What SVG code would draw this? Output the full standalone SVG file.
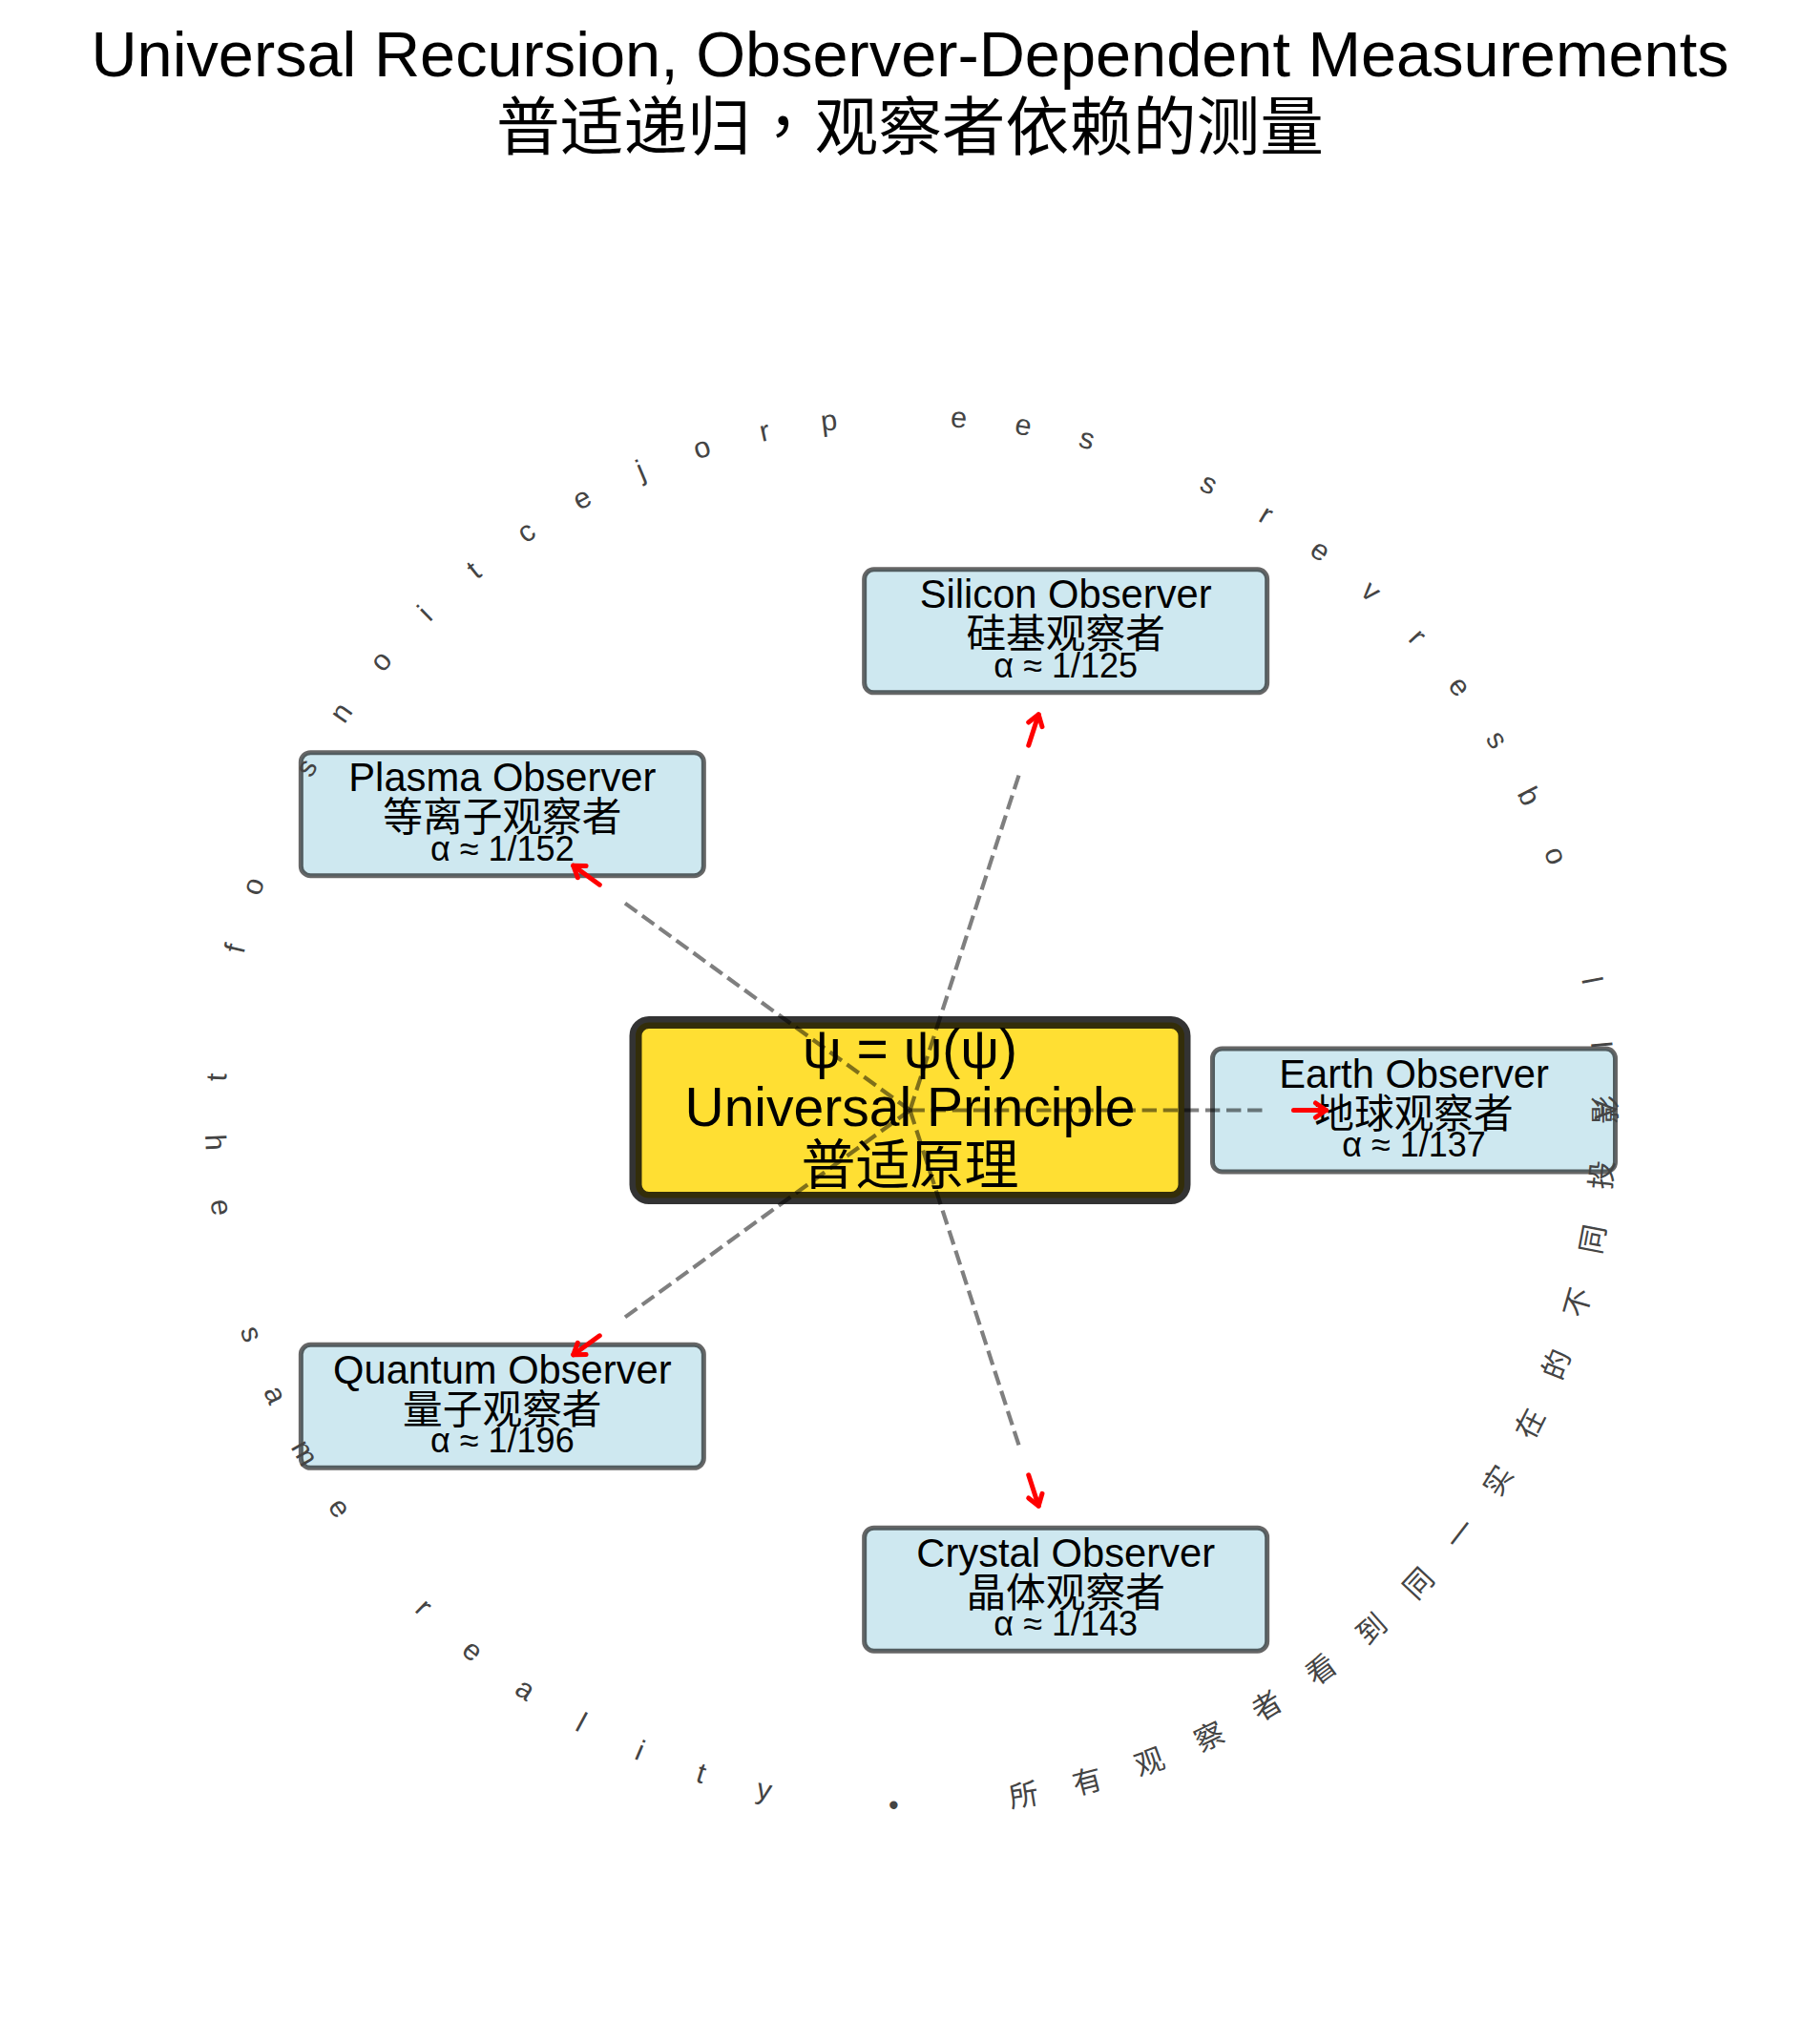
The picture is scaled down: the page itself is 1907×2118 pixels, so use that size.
<svg xmlns="http://www.w3.org/2000/svg" width="1907" height="2118" viewBox="0 0 1907 2118">
<style>
text { font-family: "Liberation Sans", "Noto Sans CJK SC", sans-serif; fill: #000; }
.title { font-size: 66.7px; text-anchor: middle; }
.tc { font-family: "Noto Sans CJK TC", "Noto Sans CJK SC", sans-serif; }
.ctr-box { fill: #FFD700; fill-opacity: 0.8; stroke: #000; stroke-opacity: 0.8; stroke-width: 13; }
.ctr-txt { font-size: 57px; text-anchor: middle; }
.obs-box { fill: #ADD8E6; fill-opacity: 0.6; stroke: #000; stroke-opacity: 0.6; stroke-width: 5; }
.obs-name { font-size: 41.7px; text-anchor: middle; }
.obs-alpha { font-size: 36px; text-anchor: middle; }
.dash { fill: none; stroke: #000; stroke-opacity: 0.5; stroke-width: 4.2; stroke-dasharray: 15.4 6.7; }
.red { fill: none; stroke: #FF0000; stroke-width: 5; stroke-linecap: round; marker-end: url(#ah); }
.ring text { font-size: 30.6px; fill: #444; text-anchor: middle; dominant-baseline: central; }
</style>
<defs>
<marker id="ah" markerUnits="userSpaceOnUse" markerWidth="40" markerHeight="40" viewBox="-20 -20 40 40" refX="0" refY="0" orient="auto" overflow="visible">
<path d="M-11,-7.5 L0,0 L-11,7.5" fill="none" stroke="#FF0000" stroke-width="5" stroke-linecap="round" stroke-linejoin="round"/>
</marker>
</defs>
<rect x="0" y="0" width="1907" height="2118" fill="#FFFFFF"/>

<g id="title">
<text class="title" x="953.5" y="80">Universal Recursion, Observer-Dependent Measurements</text>
<text class="title" x="953.5" y="157">普适递归<tspan class="tc">，</tspan>观察者依赖的测量</text>
</g>

<g id="center">
<rect class="ctr-box" x="666" y="1071.5" width="575" height="184" rx="14" ry="14"/>
<text class="ctr-txt" x="953.5" y="1119">ψ = ψ(ψ)</text>
<text class="ctr-txt" x="953.5" y="1180">Universal Principle</text>
<text class="ctr-txt" x="953.5" y="1241">普适原理</text>
</g>

<g id="earth">
<rect class="obs-box" x="1270.5" y="1099" width="422" height="129" rx="10" ry="10"/>
<text class="obs-name" x="1481.5" y="1139.5">Earth Observer</text>
<text class="obs-name" x="1481.5" y="1181.5">地球观察者</text>
<text class="obs-alpha" x="1481.5" y="1212">α ≈ 1/137</text>
</g>

<g id="silicon">
<rect class="obs-box" x="905.66" y="596.84" width="422" height="129" rx="10" ry="10"/>
<text class="obs-name" x="1116.66" y="637.3">Silicon Observer</text>
<text class="obs-name" x="1116.66" y="679.3">硅基观察者</text>
<text class="obs-alpha" x="1116.66" y="709.8">α ≈ 1/125</text>
</g>

<g id="plasma">
<rect class="obs-box" x="315.34" y="788.65" width="422" height="129" rx="10" ry="10"/>
<text class="obs-name" x="526.34" y="829.2">Plasma Observer</text>
<text class="obs-name" x="526.34" y="871.2">等离子观察者</text>
<text class="obs-alpha" x="526.34" y="901.7">α ≈ 1/152</text>
</g>

<g id="quantum">
<rect class="obs-box" x="315.34" y="1409.35" width="422" height="129" rx="10" ry="10"/>
<text class="obs-name" x="526.34" y="1449.9">Quantum Observer</text>
<text class="obs-name" x="526.34" y="1491.9">量子观察者</text>
<text class="obs-alpha" x="526.34" y="1522.4">α ≈ 1/196</text>
</g>

<g id="crystal">
<rect class="obs-box" x="905.66" y="1601.16" width="422" height="129" rx="10" ry="10"/>
<text class="obs-name" x="1116.66" y="1641.7">Crystal Observer</text>
<text class="obs-name" x="1116.66" y="1683.7">晶体观察者</text>
<text class="obs-alpha" x="1116.66" y="1714.2">α ≈ 1/143</text>
</g>

<g id="connectors">
<line class="dash" x1="953.5" y1="1163.5" x2="1323.5" y2="1163.5"/>
<line class="dash" x1="953.5" y1="1163.5" x2="1067.84" y2="811.61"/>
<line class="dash" x1="953.5" y1="1163.5" x2="654.16" y2="946.02"/>
<line class="dash" x1="953.5" y1="1163.5" x2="654.16" y2="1380.98"/>
<line class="dash" x1="953.5" y1="1163.5" x2="1067.84" y2="1515.39"/>
<line class="red" x1="1355.5" y1="1163.5" x2="1389.5" y2="1163.5"/>
<line class="red" x1="1077.72" y1="781.18" x2="1088.23" y2="748.84"/>
<line class="red" x1="628.28" y1="927.21" x2="600.77" y2="907.22"/>
<line class="red" x1="628.28" y1="1399.79" x2="600.77" y2="1419.78"/>
<line class="red" x1="1077.72" y1="1545.82" x2="1088.23" y2="1578.16"/>
</g>

<g id="ring" class="ring" transform="translate(953.5 1163)">
<text transform="rotate(0) translate(728 0) rotate(90)">A</text>
<text transform="rotate(-5.373) translate(728 0) rotate(90)">l</text>
<text transform="rotate(-10.746) translate(728 0) rotate(90)">l</text>
<text transform="rotate(-21.493) translate(728 0) rotate(90)">o</text>
<text transform="rotate(-26.866) translate(728 0) rotate(90)">b</text>
<text transform="rotate(-32.239) translate(728 0) rotate(90)">s</text>
<text transform="rotate(-37.612) translate(728 0) rotate(90)">e</text>
<text transform="rotate(-42.985) translate(728 0) rotate(90)">r</text>
<text transform="rotate(-48.358) translate(728 0) rotate(90)">v</text>
<text transform="rotate(-53.731) translate(728 0) rotate(90)">e</text>
<text transform="rotate(-59.104) translate(728 0) rotate(90)">r</text>
<text transform="rotate(-64.478) translate(728 0) rotate(90)">s</text>
<text transform="rotate(-75.224) translate(728 0) rotate(90)">s</text>
<text transform="rotate(-80.597) translate(728 0) rotate(90)">e</text>
<text transform="rotate(-85.970) translate(728 0) rotate(90)">e</text>
<text transform="rotate(-96.716) translate(728 0) rotate(90)">p</text>
<text transform="rotate(-102.090) translate(728 0) rotate(90)">r</text>
<text transform="rotate(-107.463) translate(728 0) rotate(90)">o</text>
<text transform="rotate(-112.836) translate(728 0) rotate(90)">j</text>
<text transform="rotate(-118.209) translate(728 0) rotate(90)">e</text>
<text transform="rotate(-123.582) translate(728 0) rotate(90)">c</text>
<text transform="rotate(-128.955) translate(728 0) rotate(90)">t</text>
<text transform="rotate(-134.328) translate(728 0) rotate(90)">i</text>
<text transform="rotate(-139.701) translate(728 0) rotate(90)">o</text>
<text transform="rotate(-145.075) translate(728 0) rotate(90)">n</text>
<text transform="rotate(-150.448) translate(728 0) rotate(90)">s</text>
<text transform="rotate(-161.194) translate(728 0) rotate(90)">o</text>
<text transform="rotate(-166.567) translate(728 0) rotate(90)">f</text>
<text transform="rotate(-177.313) translate(728 0) rotate(90)">t</text>
<text transform="rotate(-182.687) translate(728 0) rotate(-90)">h</text>
<text transform="rotate(-188.060) translate(728 0) rotate(-90)">e</text>
<text transform="rotate(-198.806) translate(728 0) rotate(-90)">s</text>
<text transform="rotate(-204.179) translate(728 0) rotate(-90)">a</text>
<text transform="rotate(-209.552) translate(728 0) rotate(-90)">m</text>
<text transform="rotate(-214.925) translate(728 0) rotate(-90)">e</text>
<text transform="rotate(-225.672) translate(728 0) rotate(-90)">r</text>
<text transform="rotate(-231.045) translate(728 0) rotate(-90)">e</text>
<text transform="rotate(-236.418) translate(728 0) rotate(-90)">a</text>
<text transform="rotate(-241.791) translate(728 0) rotate(-90)">l</text>
<text transform="rotate(-247.164) translate(728 0) rotate(-90)">i</text>
<text transform="rotate(-252.537) translate(728 0) rotate(-90)">t</text>
<text transform="rotate(-257.910) translate(728 0) rotate(-90)">y</text>
<text transform="rotate(-268.657) translate(728 0) rotate(-90)">•</text>
<text transform="rotate(-279.403) translate(728 0) rotate(-90)">所</text>
<text transform="rotate(-284.776) translate(728 0) rotate(-90)">有</text>
<text transform="rotate(-290.149) translate(728 0) rotate(-90)">观</text>
<text transform="rotate(-295.522) translate(728 0) rotate(-90)">察</text>
<text transform="rotate(-300.896) translate(728 0) rotate(-90)">者</text>
<text transform="rotate(-306.269) translate(728 0) rotate(-90)">看</text>
<text transform="rotate(-311.642) translate(728 0) rotate(-90)">到</text>
<text transform="rotate(-317.015) translate(728 0) rotate(-90)">同</text>
<text transform="rotate(-322.388) translate(728 0) rotate(-90)">一</text>
<text transform="rotate(-327.761) translate(728 0) rotate(-90)">实</text>
<text transform="rotate(-333.134) translate(728 0) rotate(-90)">在</text>
<text transform="rotate(-338.507) translate(728 0) rotate(-90)">的</text>
<text transform="rotate(-343.881) translate(728 0) rotate(-90)">不</text>
<text transform="rotate(-349.254) translate(728 0) rotate(-90)">同</text>
<text transform="rotate(-354.627) translate(728 0) rotate(-90)">投</text>
<text transform="rotate(-360) translate(728 0) rotate(-90)">影</text>
</g>
</svg>
